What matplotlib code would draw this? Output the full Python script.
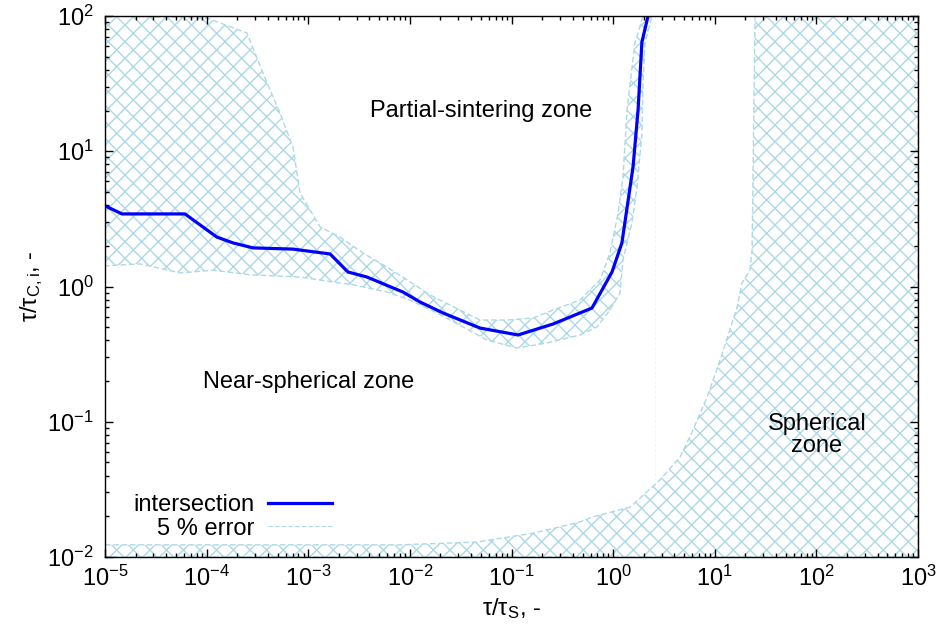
import matplotlib
matplotlib.use('Agg')
import matplotlib.pyplot as plt
from matplotlib.lines import Line2D
from matplotlib.ticker import FixedLocator, LogLocator, NullFormatter

plt.rcParams['font.family'] = ['Liberation Sans', 'DejaVu Sans']
plt.rcParams['mathtext.default'] = 'regular'
plt.rcParams['hatch.linewidth'] = 1.0

# intersection curve (tau/tau_S, tau/tau_C,i)
int_x = [1e-5, 1.47e-5, 6.12e-5, 1.26e-4, 1.82e-4, 2.86e-4, 7.08e-4, 1.64e-3,
         2.46e-3, 3.78e-3, 8.55e-3, 1.26e-2, 2.12e-2, 4.90e-2, 0.116, 0.256,
         0.619, 0.975, 1.22, 1.57, 1.76, 1.92, 2.22]
int_y = [3.95, 3.44, 3.44, 2.32, 2.10, 1.93, 1.89, 1.74,
         1.28, 1.175, 0.91, 0.768, 0.637, 0.493, 0.438, 0.528,
         0.693, 1.28, 2.10, 7.65, 20.2, 64.2, 102]

# 5 % error band: upper and lower edges
band_up_x = [1e-5, 1.01e-4, 2.49e-4, 3.93e-4, 5.27e-4, 7.08e-4, 8.30e-4, 1.31e-3,
             2.05e-3, 3.46e-3, 5.96e-3, 9.38e-3, 1.58e-2, 3.11e-2, 4.90e-2, 9.04e-2,
             0.163, 0.256, 0.472, 0.743, 0.931, 1.12, 1.25, 1.37, 1.47, 1.64, 1.97]
band_up_y = [100, 96.6, 74.9, 32.0, 19.2, 10.7, 4.91, 2.75,
             2.32, 1.77, 1.39, 1.12, 0.865, 0.670, 0.565, 0.565,
             0.585, 0.670, 0.794, 1.12, 1.77, 3.49, 6.45, 20.2, 32.0, 63.1, 100]
band_lo_x = [1e-5, 2.21e-5, 5.47e-5, 1.16e-4, 2.67e-4, 8.30e-4, 1.75e-3, 2.75e-3,
             5.96e-3, 1.00e-2, 1.85e-2, 3.33e-2, 5.74e-2, 0.113, 0.223, 0.472,
             0.693, 0.931, 1.17, 1.25, 1.53, 1.72, 1.92, 1.97, 2.06, 2.42]
band_lo_y = [1.42, 1.47, 1.26, 1.32, 1.22, 1.175, 1.08, 1.03,
             0.91, 0.794, 0.637, 0.502, 0.402, 0.351, 0.382, 0.438,
             0.502, 0.670, 0.895, 1.57, 2.95, 5.44, 13.6, 32.0, 63.1, 100]

# lower-left edge of the spherical zone
sph_x = [1e-5, 8.0e-3, 0.0457, 0.163, 0.300, 0.472, 0.634, 1.47, 2.89, 4.55,
         6.11, 8.39, 11.3, 16.6, 18.5, 22.2, 23.3, 24.9]
sph_y = [0.0123, 0.0123, 0.0129, 0.0150, 0.0167, 0.0182, 0.0198, 0.0234, 0.0371, 0.0548,
         0.0869, 0.152, 0.286, 0.705, 1.06, 1.32, 1.86, 100]

divide_x = 2.58
divide_y = [100, 0.037]

x_decades = [1e-5, 1e-4, 1e-3, 1e-2, 1e-1, 1e0, 1e1, 1e2, 1e3]
y_decades = [1e-2, 1e-1, 1e0, 1e1, 1e2]

xmin, xmax = 1e-5, 1e3
ymin, ymax = 1e-2, 1e2

fs = 17
err_color = 'lightblue'
err_ls = (0, (4, 2))

fig, ax = plt.subplots(figsize=(9.41, 6.39), dpi=100)
fig.subplots_adjust(left=105/941, right=918/941, bottom=1-557/639, top=1-16/639)
ax.set_xscale('log')
ax.set_yscale('log')
ax.set_xlim(xmin, xmax)
ax.set_ylim(ymin, ymax)

hatch_kw = dict(facecolor='none', edgecolor=err_color, hatch='xx',
                linestyle=err_ls, linewidth=1.0)
ax.fill(band_up_x + band_lo_x[::-1], band_up_y + band_lo_y[::-1], **hatch_kw)
ax.fill(sph_x + [xmax, xmax, xmin], sph_y + [ymax, ymin, ymin], **hatch_kw)

ax.plot([divide_x, divide_x], divide_y, color='#f0f0f0', lw=0.5, ls=(0, (4, 3)))
line, = ax.plot(int_x, int_y, color='blue', lw=2.3)

ax.text(0.05, 19.9, 'Partial-sintering zone', fontsize=fs, ha='center', va='center')
ax.text(1.0e-3, 0.197, 'Near-spherical zone', fontsize=fs, ha='center', va='center')
ax.text(101, 0.080, 'Spherical\nzone', fontsize=fs, ha='center', va='center',
        linespacing=1.0)

ax.set_xlabel('τ/τ$_S$, -', fontsize=fs, labelpad=4)
ax.set_ylabel('τ/τ$_{C,i}$, -', fontsize=fs, labelpad=2)

ax.xaxis.set_major_locator(FixedLocator(x_decades))
ax.yaxis.set_major_locator(FixedLocator(y_decades))
for axis in (ax.xaxis, ax.yaxis):
    axis.set_minor_locator(LogLocator(base=10, subs=range(2, 10), numticks=20))
    axis.set_minor_formatter(NullFormatter())
ax.tick_params(which='both', direction='in', top=True, right=True, width=1,
               labelsize=fs)
ax.tick_params(which='major', length=6)
ax.tick_params(which='minor', length=3)
ax.tick_params(axis='x', pad=6)
ax.tick_params(axis='y', pad=8)
for s in ax.spines.values():
    s.set_linewidth(1)

err_handle = Line2D([], [], color=err_color, ls=err_ls, lw=0.8)
ax.legend([line, err_handle], ['intersection', '5 % error'],
          loc='center right', bbox_to_anchor=(344/941, 1-517/639),
          bbox_transform=fig.transFigure, frameon=False, markerfirst=False,
          handlelength=2.7, handletextpad=0.6, labelspacing=0.05,
          borderpad=0, fontsize=fs)

fig.savefig('out.png', dpi=100)
